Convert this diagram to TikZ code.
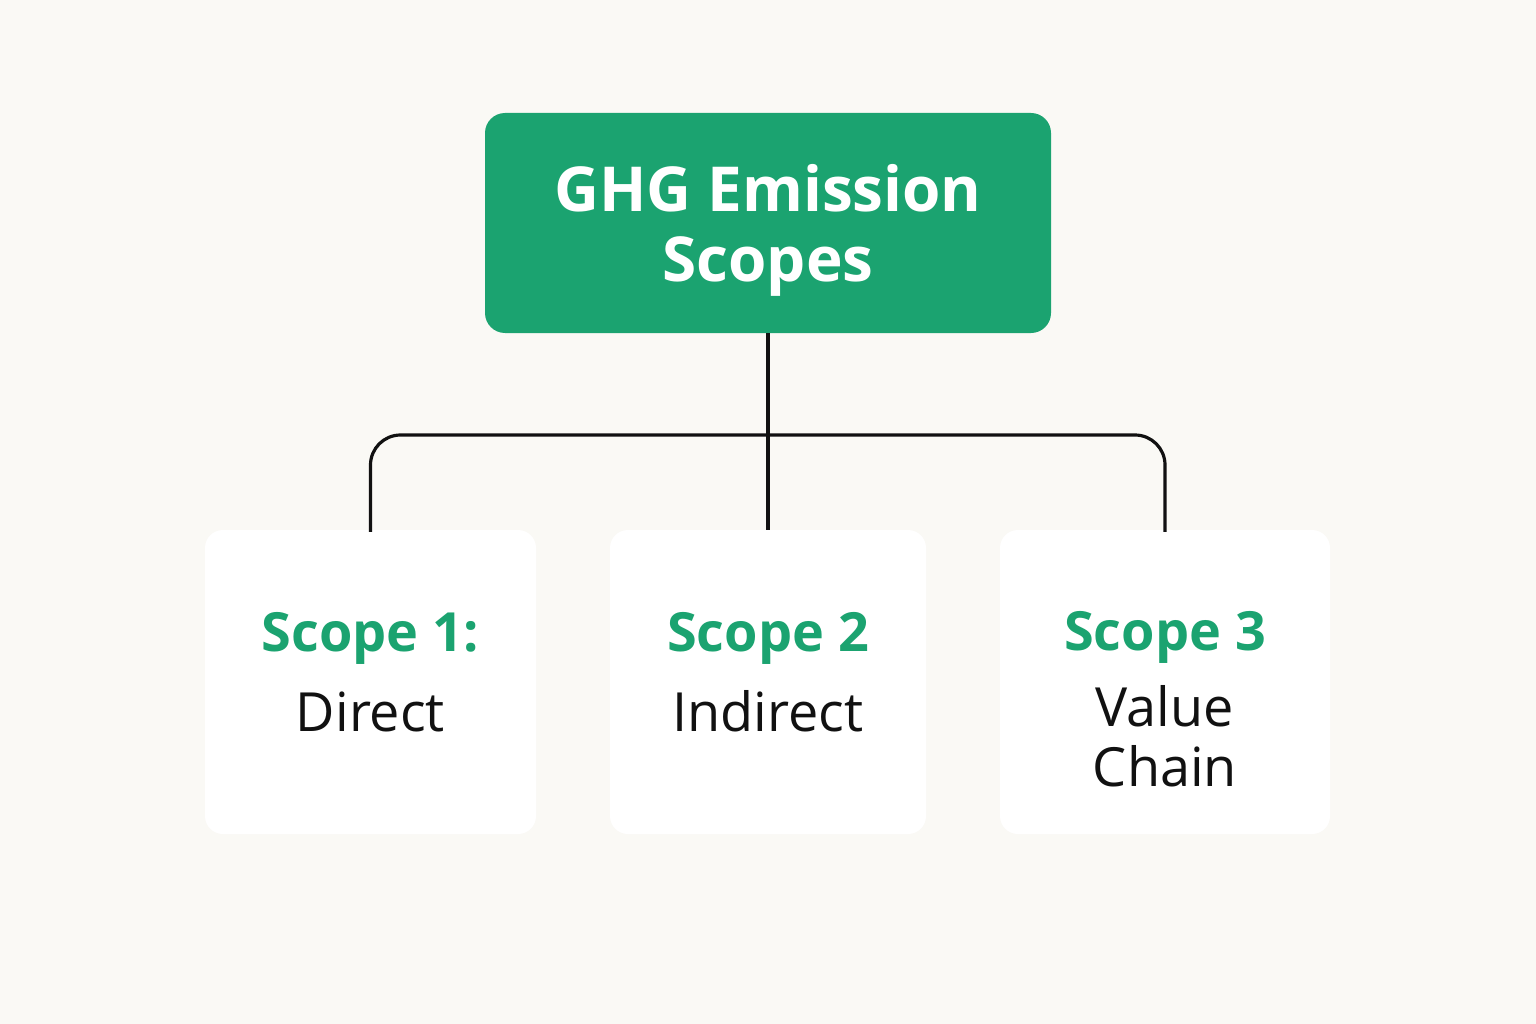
\documentclass[tikz,border=0pt]{standalone}
\usepackage{fontspec}
\setmainfont{Open Sans}
\definecolor{bg}{HTML}{FAF9F5}
\definecolor{brand}{HTML}{1BA370}
\definecolor{ink}{HTML}{111111}
\begin{document}
\begin{tikzpicture}[x=1pt,y=-1pt,
  topbox/.style={fill=brand, rounded corners=20pt, minimum width=566pt, minimum height=220pt, inner sep=0pt},
  toptext/.style={text=white, align=center, inner sep=0pt, font=\fontsize{62}{70}\selectfont\bfseries},
  card/.style={fill=white, rounded corners=18pt, minimum height=304pt, inner sep=0pt},
  cardtext/.style={align=center, text=ink, inner sep=0pt, font=\fontsize{54}{60}\selectfont},
  link/.style={draw=ink, line width=3.2pt}
]
\fill[bg] (0,0) rectangle (1536,1024);
\useasboundingbox (0,0) rectangle (1536,1024);

\node[topbox] (top) at (768,223) {};
\node[toptext] (toplbl) at ([yshift=-7pt]top.center) {GHG Emission\\Scopes};

\node[card, minimum width=331pt] (c1) at (370.5,682) {};
\node[card, minimum width=316pt] (c2) at (768,682) {};
\node[card, minimum width=330pt] (c3) at (1165,682) {};

\node[cardtext] (t1) at ([yshift=10pt]c1.center) {\textcolor{brand}{\bfseries Scope 1:}\\[20pt]Direct};
\node[cardtext] (t2) at ([yshift=10pt]c2.center) {\textcolor{brand}{\bfseries Scope 2}\\[20pt]Indirect};
\node[cardtext] (t3) at ([yshift=-17pt]c3.center) {\textcolor{brand}{\bfseries Scope 3}\\[16pt]Value\\Chain};

\coordinate (bus) at (768,435);
\draw[link] (top.south) -- (c2.north);
\draw[link, rounded corners=30pt] (bus) -| ([yshift=-2pt]c1.north);
\draw[link, rounded corners=30pt] (bus) -| ([yshift=-2pt]c3.north);
\end{tikzpicture}
\end{document}
